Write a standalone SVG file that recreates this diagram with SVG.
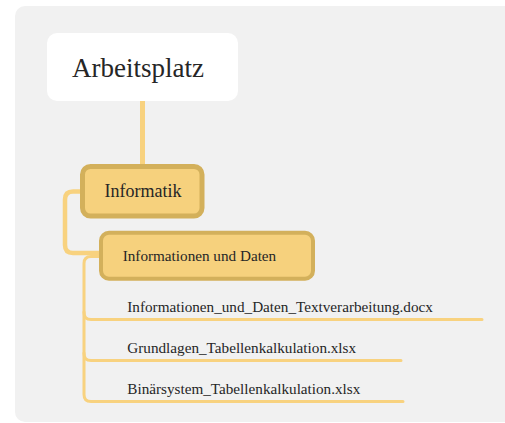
<svg xmlns="http://www.w3.org/2000/svg" width="505" height="423" viewBox="0 0 505 423">
<style>
text{font-family:"Liberation Serif","Times New Roman",serif;fill:#262626}
.c{fill:none;stroke:#f8d27f;stroke-linecap:round;stroke-linejoin:round}
.box{fill:#f6d17d;stroke:#d3b05b}
</style>
<rect x="15" y="6" width="500" height="416" rx="10" fill="#f1f1f1"/>
<g id="connectors">
<path class="c" stroke-width="5" d="M142.5,101 V165"/>
<path class="c" stroke-width="4.5" d="M82,191.5 H73 Q65,191.5 65,199.5 V245 Q65,253 73,253 H101"/>
<path class="c" stroke-width="3" d="M100,256.5 H91 Q84,256.5 84,263.5 V312.5 Q84,319.5 91,319.5 H482"/>
<path class="c" stroke-width="3" d="M84,312 V353.5 Q84,360.5 91,360.5 H401"/>
<path class="c" stroke-width="3" d="M84,353 V394.5 Q84,401.5 91,401.5 H403"/>
</g>
<g id="arbeitsplatz">
<rect x="47" y="33" width="191" height="68" rx="10" fill="#fff"/>
<text x="138" y="77" font-size="27" text-anchor="middle">Arbeitsplatz</text>
</g>
<g id="informatik">
<rect class="box" x="82.5" y="166.5" width="119.5" height="49.5" rx="8" stroke-width="5"/>
<text x="143" y="196.7" font-size="18" text-anchor="middle">Informatik</text>
</g>
<g id="informationen">
<rect class="box" x="101" y="232.7" width="212" height="46" rx="8" stroke-width="4"/>
<text x="122.7" y="260.7" font-size="15.2">Informationen und Daten</text>
</g>
<g id="leaf1"><text x="127.3" y="312.3" font-size="15.2">Informationen_und_Daten_Textverarbeitung.docx</text></g>
<g id="leaf2"><text x="127.3" y="352.7" font-size="15.2">Grundlagen_Tabellenkalkulation.xlsx</text></g>
<g id="leaf3"><text x="127.3" y="394" font-size="15.2">Binärsystem_Tabellenkalkulation.xlsx</text></g>
</svg>
